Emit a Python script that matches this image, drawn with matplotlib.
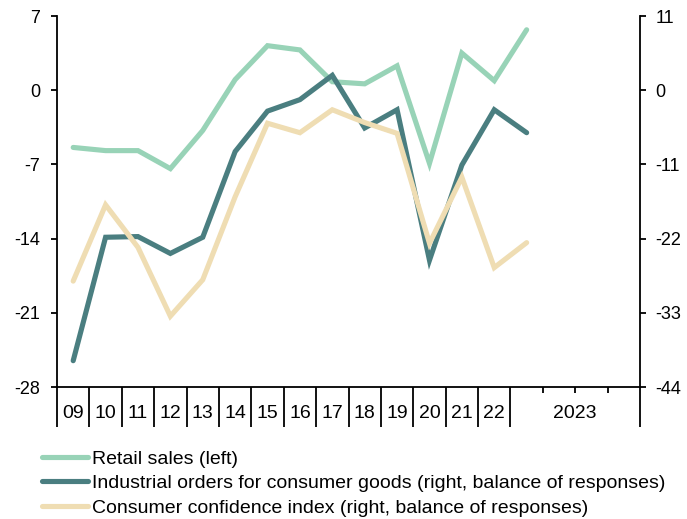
import matplotlib
matplotlib.use("Agg")
import matplotlib.pyplot as plt
import numpy as np

plt.rcParams['font.family'] = ['Liberation Sans', 'DejaVu Sans']

# ---- data ----
categories = ["09", "10", "11", "12", "13", "14", "15", "16", "17", "18", "19", "20", "21", "22"]
label_2023 = "2023"
retail_sales = [-5.4, -5.7, -5.7, -7.4, -3.8, 1.0, 4.2, 3.8, 0.8, 0.6, 2.3, -6.9, 3.5, 0.9, 5.7]
industrial_orders = [-40.1, -21.8, -21.7, -24.2, -21.8, -9.1, -3.1, -1.4, 2.2, -5.6, -2.9, -25.2, -11.1, -2.9, -6.3]
consumer_confidence = [-28.3, -17.0, -23.3, -33.5, -28.1, -15.8, -4.9, -6.3, -2.9, -4.8, -6.4, -22.7, -12.9, -26.3, -22.6]
left_ticks = [-28, -21, -14, -7, 0, 7]
right_ticks = [-44, -33, -22, -11, 0, 11]

names = ["Retail sales (left)",
         "Industrial orders for consumer goods (right, balance of responses)",
         "Consumer confidence index (right, balance of responses)"]
colors = ["#98D3B7", "#4A7E80", "#EFDDB3"]

W, H = 687, 519
fig = plt.figure(figsize=(W / 100, H / 100), dpi=100)
ax = fig.add_axes([57 / W, 1 - 387 / H, (640 - 57) / W, (387 - 16) / H])
ax2 = ax.twinx()

x = np.arange(len(retail_sales))
lw = 3.7
l1, = ax.plot(x, retail_sales, color=colors[0], lw=lw, solid_capstyle='round', solid_joinstyle='miter')
l2, = ax2.plot(x, industrial_orders, color=colors[1], lw=lw, solid_capstyle='round', solid_joinstyle='miter', zorder=2)
l3, = ax2.plot(x, consumer_confidence, color=colors[2], lw=lw, solid_capstyle='round', solid_joinstyle='miter', zorder=3)

ax.set_xlim(-0.5, 17.5)
ax.set_ylim(left_ticks[0], left_ticks[-1])
ax2.set_ylim(right_ticks[0], right_ticks[-1])

fs = 13
spw = 1.3
for a in (ax, ax2):
    a.spines['top'].set_visible(False)
    for s in ('left', 'right', 'bottom'):
        a.spines[s].set_linewidth(spw)
ax.spines['right'].set_visible(False)
ax2.spines['left'].set_visible(False)
ax2.spines['bottom'].set_visible(False)

ax.set_yticks(left_ticks)
ax.set_yticklabels([str(t) for t in left_ticks])
ax.tick_params(axis='y', direction='out', length=4, width=spw, labelsize=fs, pad=8)
ax2.set_yticks(right_ticks)
ax2.set_yticklabels([str(t) for t in right_ticks])
ax2.tick_params(axis='y', direction='out', length=4, width=spw, labelsize=fs, pad=7)

# x axis: labels at category centres, separators at boundaries
n_cat = len(categories)
ax.set_xticks(list(range(n_cat)) + [15.5])
ax.set_xticklabels(categories + [label_2023])
ax.tick_params(axis='x', which='major', length=0, labelsize=14, pad=13)
ax.set_xticks([i - 0.5 for i in range(n_cat + 1)] + [17.5], minor=True)
ax.tick_params(axis='x', which='minor', direction='out', length=29, width=spw)
sec = ax.secondary_xaxis('bottom')
sec.set_xticks([14.5, 15.5, 16.5])
sec.set_xticklabels([])
sec.tick_params(axis='x', direction='out', length=4, width=spw)
sec.spines['bottom'].set_visible(False)

fig.legend([l1, l2, l3], names, loc='upper left', bbox_to_anchor=(42 / W, 1 - 450 / H),
           frameon=False, fontsize=14, borderpad=0, handlelength=2.35, handletextpad=0.2,
           labelspacing=0.36, borderaxespad=0)

fig.savefig("out.png", dpi=100)
